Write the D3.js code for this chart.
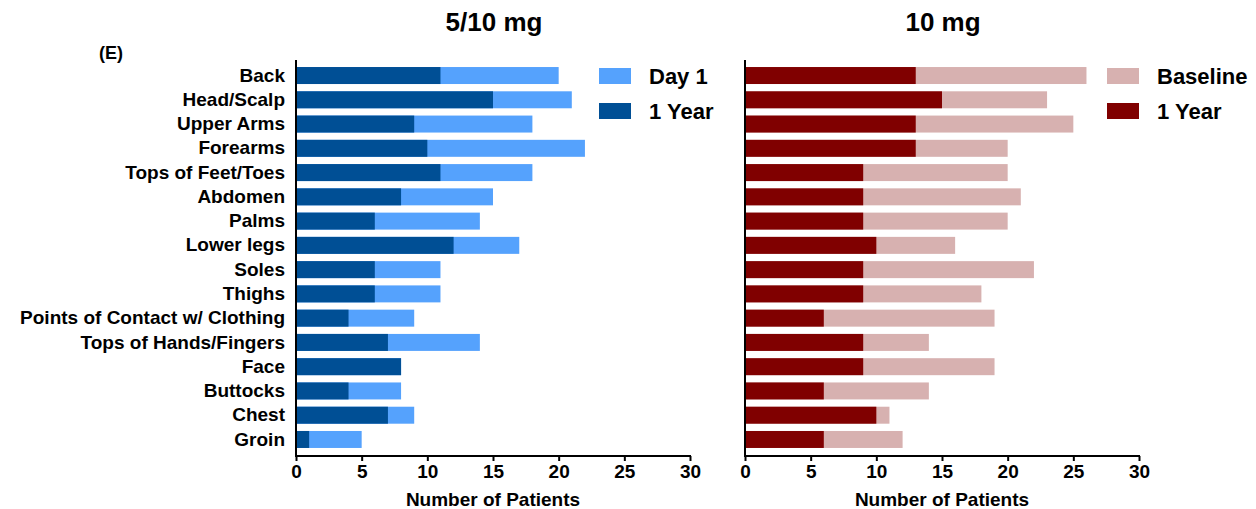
<!DOCTYPE html>
<html>
<head>
<meta charset="utf-8">
<script src="https://cdn.jsdelivr.net/npm/d3@7"></script>
<style>
  body { margin: 0; background: #fff; }
  svg { display: block; font-family: "Liberation Sans", Arial, sans-serif; font-weight: bold; }
</style>
</head>
<body>
<div id="chart"></div>
<script>
// Body sites, top to bottom
const sites = ['Back', 'Head/Scalp', 'Upper Arms', 'Forearms', 'Tops of Feet/Toes', 'Abdomen', 'Palms',
    'Lower legs', 'Soles', 'Thighs', 'Points of Contact w/ Clothing', 'Tops of Hands/Fingers', 'Face',
    'Buttocks', 'Chest', 'Groin'];

// 5/10 mg panel
const day1 = [20, 21, 18, 22, 18, 15, 14, 17, 11, 11, 9, 14, 8, 8, 9, 5];
const year1Low = [11, 15, 9, 10, 11, 8, 6, 12, 6, 6, 4, 7, 8, 4, 7, 1];

// 10 mg panel
const baseline = [26, 23, 25, 20, 20, 21, 20, 16, 22, 18, 19, 14, 19, 14, 11, 12];
const year1High = [13, 15, 13, 13, 9, 9, 9, 10, 9, 9, 6, 9, 9, 6, 10, 6];

const xTicks = [0, 5, 10, 15, 20, 25, 30];

const width = 1256;
const height = 509;

const svg = d3.select('#chart')
    .append('svg')
    .attr('width', width)
    .attr('height', height);

const y = d3.scaleBand()
    .domain(sites)
    .range([60, 455])
    .paddingInner(0.3)
    .paddingOuter(0.29);

const panels = [
    {
        title: '5/10 mg', x0: 296, x1: 690,
        back: day1, front: year1Low,
        backColor: '#55a2fd', frontColor: '#004f95',
        legend: ['Day 1', '1 Year'], legendX: 599, showLabels: true
    },
    {
        title: '10 mg', x0: 745, x1: 1139,
        back: baseline, front: year1High,
        backColor: '#d7b1b0', frontColor: '#800000',
        legend: ['Baseline', '1 Year'], legendX: 1107, showLabels: false
    }
];

panels.forEach(p => {
    const x = d3.scaleLinear().domain([0, 30]).range([p.x0, p.x1]);
    const g = svg.append('g');

    // Back (longer) bars first, then overlay
    g.selectAll('.back')
        .data(sites)
        .join('rect')
        .attr('x', x(0))
        .attr('y', d => y(d))
        .attr('width', (d, i) => x(p.back[i]) - x(0))
        .attr('height', y.bandwidth())
        .attr('fill', p.backColor);

    g.selectAll('.front')
        .data(sites)
        .join('rect')
        .attr('x', x(0))
        .attr('y', d => y(d))
        .attr('width', (d, i) => x(p.front[i]) - x(0))
        .attr('height', y.bandwidth())
        .attr('fill', p.frontColor);

    // x axis
    const xAxis = g.append('g')
        .attr('transform', 'translate(0,456)')
        .call(d3.axisBottom(x).tickValues(xTicks).tickSize(5).tickSizeOuter(0));
    xAxis.select('.domain').attr('stroke', '#000').attr('stroke-width', 2)
        .attr('d', `M${p.x0 - 1},0H${p.x1 + 1}`);
    xAxis.selectAll('.tick line').attr('stroke', '#000').attr('stroke-width', 2);
    xAxis.selectAll('.tick text')
        .attr('y', 9)
        .attr('dy', '0.71em')
        .style('font-size', '19px')
        .style('font-family', '"Liberation Sans", Arial, sans-serif')
        .style('font-weight', 'bold')
        .attr('fill', '#000');

    // y axis line
    const yAxis = g.append('g')
        .attr('transform', `translate(${p.x0},0)`)
        .call(d3.axisLeft(y).tickSize(0).tickPadding(11));
    yAxis.select('.domain').attr('stroke', '#000').attr('stroke-width', 2)
        .attr('d', 'M0,60V457');
    yAxis.selectAll('.tick text')
        .style('font-size', '19px')
        .style('font-family', '"Liberation Sans", Arial, sans-serif')
        .style('font-weight', 'bold')
        .attr('fill', '#000')
        .style('display', p.showLabels ? null : 'none');

    // axis title
    g.append('text')
        .attr('x', (p.x0 + p.x1) / 2)
        .attr('y', 506)
        .attr('text-anchor', 'middle')
        .style('font-size', '19px')
        .text('Number of Patients');

    // panel title
    g.append('text')
        .attr('x', (p.x0 + p.x1) / 2 + 1)
        .attr('y', 31)
        .attr('text-anchor', 'middle')
        .style('font-size', '26px')
        .text(p.title);

    // legend
    const colors = [p.backColor, p.frontColor];
    p.legend.forEach((label, i) => {
        const ly = 68 + i * 35;
        g.append('rect')
            .attr('x', p.legendX)
            .attr('y', ly)
            .attr('width', 32)
            .attr('height', 16)
            .attr('fill', colors[i]);
        g.append('text')
            .attr('x', p.legendX + 50)
            .attr('y', ly + 16)
            .style('font-size', '22px')
            .text(label);
    });
});

svg.append('text')
    .attr('x', 99)
    .attr('y', 59)
    .style('font-size', '18px')
    .text('(E)');
</script>
</body>
</html>
